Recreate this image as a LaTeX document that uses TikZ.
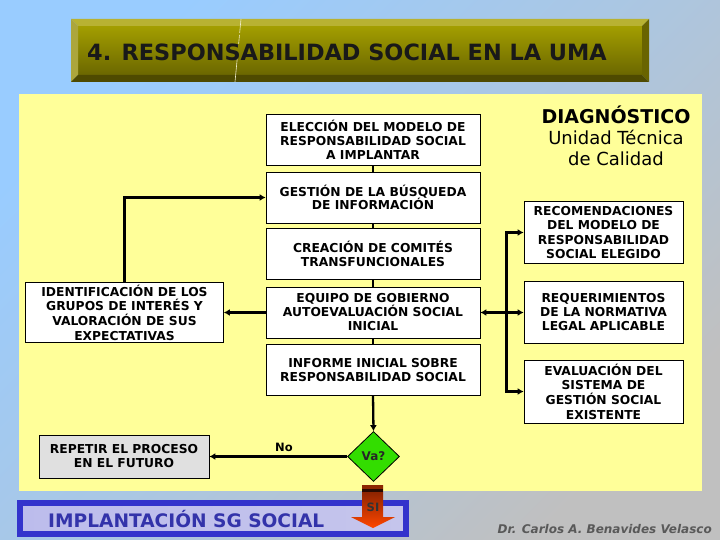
\documentclass[tikz,border=0pt]{standalone}
\usepackage{fontspec}
\setmainfont{DejaVu Sans}
\usetikzlibrary{arrows.meta,shapes.geometric}
\definecolor{panelY}{HTML}{FFFF99}
\definecolor{bgblue}{HTML}{99CCFF}
\definecolor{bggrey}{HTML}{C0C0C0}
\definecolor{plateTop}{HTML}{A39E00}
\definecolor{plateBot}{HTML}{6B6700}
\tikzset{
  flowbox/.style={draw=black,line width=0.8pt,fill=white,align=center,inner sep=0pt,
    font=\fontsize{12.3}{14}\selectfont\bfseries,text=black},
  link/.style={line width=2.3pt,draw=black},
  arrowlink/.style={link,-{Latex[length=6pt,width=7pt]}},
  bothlink/.style={link,{Latex[length=6pt,width=7pt]}-{Latex[length=6pt,width=7pt]}},
  plainlabel/.style={inner sep=0pt,align=center,text=black}
}
\begin{document}
\begin{tikzpicture}[x=1pt,y=-1pt]
\useasboundingbox (0,0) rectangle (720,540);
% background
\shade[shading=axis,top color=bgblue,bottom color=bggrey,middle color=bgblue!55!bggrey,shading angle=45] (0,0) rectangle (720,540);
% title plate
\shade[top color=plateTop,bottom color=plateBot] (78,26) rectangle (642,75);
\fill[color={rgb,255:red,184;green,178;blue,50}] (71,19) -- (649,19) -- (642,26) -- (78,26) -- cycle;
\fill[color={rgb,255:red,172;green,166;blue,60}] (71,19) -- (78,26) -- (78,75) -- (71,82) -- cycle;
\fill[color={rgb,255:red,105;green,100;blue,0}] (649,19) -- (649,82) -- (642,75) -- (642,26) -- cycle;
\fill[color={rgb,255:red,78;green,74;blue,0}] (71,82) -- (78,75) -- (642,75) -- (649,82) -- cycle;
\draw[white!85!olive,line width=0.6pt,dash pattern=on 14pt off 2pt on 9pt off 12pt on 28pt off 1pt] (241,19) -- (235,82);
\node[plainlabel,anchor=west,font=\fontsize{22.4}{26}\selectfont\bfseries,text=black!90] (title) at (87,52) {4. RESPONSABILIDAD SOCIAL EN LA UMA};
% panel
\fill[panelY] (19,94) rectangle (702,491);
% blue frame
\shade[left color=blue!22!white!85!gray,right color=blue!18!white!85!gray] (20,503) rectangle (406,534);
\draw[color={rgb,255:red,51;green,51;blue,204},line width=6pt] (20,503) rectangle (406,534);
\node[plainlabel,anchor=west,font=\fontsize{18.6}{22}\selectfont\bfseries,text={rgb,255:red,51;green,51;blue,170}] (impl) at (48,519) {IMPLANTACIÓN SG SOCIAL};
% block arrow
\shade[top color={rgb,255:red,120;green,30;blue,0},bottom color={rgb,255:red,255;green,70;blue,0}]
  (362,485) -- (383,485) -- (383,517) -- (395,517) -- (373,528) -- (351,517) -- (362,517) -- cycle;
\fill[color={rgb,255:red,140;green,40;blue,0}] (362,485) rectangle (383,489);
\fill[color={rgb,255:red,40;green,10;blue,0}] (362,489) rectangle (383,491.5);
\node[plainlabel,font=\fontsize{11.5}{13}\selectfont\bfseries,text=black!80] (si) at (373,507) {SI};
% centre column
\node[flowbox,minimum width=214pt,minimum height=51pt] (elec) at (373,139.5) {ELECCIÓN DEL MODELO DE\\RESPONSABILIDAD SOCIAL\\A IMPLANTAR};
\node[flowbox,minimum width=214pt,minimum height=51pt] (gest) at (373,197.5) {};
\node[plainlabel,font=\fontsize{12.3}{13.5}\selectfont\bfseries] (gestlabel) at (373,197.5) {GESTIÓN DE LA BÚSQUEDA\\DE INFORMACIÓN};
\node[flowbox,minimum width=214pt,minimum height=51pt] (crea) at (373,253.5) {};
\node[plainlabel,font=\fontsize{12.3}{13.5}\selectfont\bfseries] (crealabel) at (373,254) {CREACIÓN DE COMITÉS\\TRANSFUNCIONALES};
\node[flowbox,minimum width=214pt,minimum height=51pt] (equi) at (373,312.5) {EQUIPO DE GOBIERNO\\AUTOEVALUACIÓN SOCIAL\\INICIAL};
\node[flowbox,minimum width=214pt,minimum height=51pt] (info) at (373,369.5) {};
\node[plainlabel,font=\fontsize{12.3}{13.5}\selectfont\bfseries] (infolabel) at (373,370) {INFORME INICIAL SOBRE\\RESPONSABILIDAD SOCIAL};
% left
\node[flowbox,minimum width=198pt,minimum height=60pt,font=\fontsize{12.3}{14.6}\selectfont\bfseries] (iden) at (124.5,312.5) {IDENTIFICACIÓN DE LOS\\GRUPOS DE INTERÉS Y\\VALORACIÓN DE SUS\\EXPECTATIVAS};
\node[flowbox,minimum width=170pt,minimum height=43pt,fill={rgb,255:red,224;green,224;blue,224}] (repe) at (124,456.5) {REPETIR EL PROCESO\\EN EL FUTURO};
% right
\node[flowbox,minimum width=159pt,minimum height=62pt,font=\fontsize{12.3}{14.6}\selectfont\bfseries] (reco) at (603.5,232.5) {RECOMENDACIONES\\DEL MODELO DE\\RESPONSABILIDAD\\SOCIAL ELEGIDO};
\node[flowbox,minimum width=159pt,minimum height=62pt] (requ) at (603.5,312.5) {REQUERIMIENTOS\\DE LA NORMATIVA\\LEGAL APLICABLE};
\node[flowbox,minimum width=159pt,minimum height=63pt,font=\fontsize{12.3}{14.6}\selectfont\bfseries] (eval) at (603.5,391.5) {EVALUACIÓN DEL\\SISTEMA DE\\GESTIÓN SOCIAL\\EXISTENTE};
% decision
\node[diamond,draw=black,line width=0.8pt,fill={rgb,255:red,51;green,221;blue,0},minimum width=52pt,minimum height=50pt,inner sep=0pt,font=\fontsize{12}{13}\selectfont\bfseries,text=black!85] (vaq) at (373.5,456.5) {Va?};
% connectors
\coordinate (bus) at (506.5,312.5);
\draw[link] (elec.south) -- (gest.north);
\draw[link] (gest.south) -- (crea.north);
\draw[link] (crea.south) -- (equi.north);
\draw[link] (equi.south) -- (info.north);
\draw[arrowlink] (info.south) -- (vaq.north);
\draw[arrowlink] (vaq.west) -- (vaq.west -| repe.east);
\draw[arrowlink] (iden.north) |- (gest.west);
\draw[arrowlink] (equi.west) -- (equi.west -| iden.east);
\draw[bothlink] (equi.east) -- (requ.west);
\draw[arrowlink] (bus) |- (reco.west);
\draw[arrowlink] (bus) |- (eval.west);
% labels
\node[plainlabel,font=\fontsize{11.5}{14}\selectfont\bfseries] (nolab) at (284,447) {No};
\node[plainlabel,font=\fontsize{18}{21}\selectfont] (diag) at (616,136) {{\fontsize{19}{21}\selectfont\bfseries DIAGNÓSTICO}\\Unidad Técnica\\de Calidad};
\node[plainlabel,anchor=east,font=\fontsize{12}{14}\selectfont\bfseries\itshape,text=black!65] (auth) at (712,529) {Dr. Carlos A. Benavides Velasco};
\end{tikzpicture}
\end{document}
